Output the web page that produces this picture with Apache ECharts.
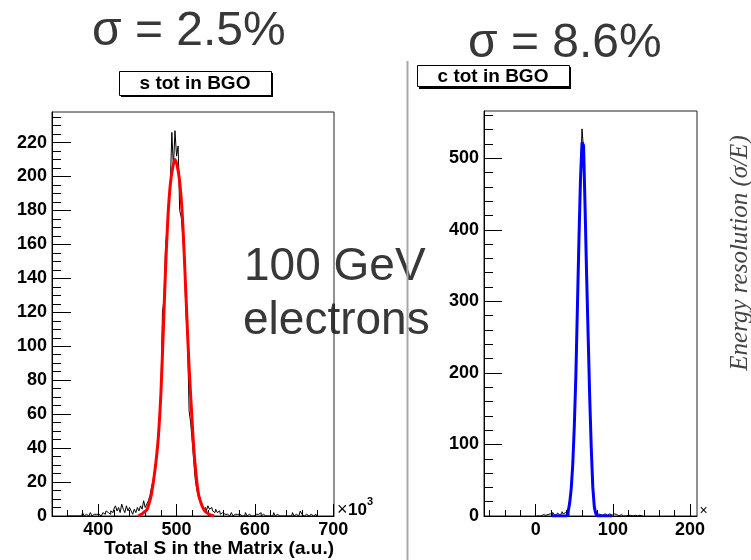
<!DOCTYPE html>
<html><head><meta charset="utf-8">
<script src="https://cdn.jsdelivr.net/npm/echarts@6/dist/echarts.min.js"></script>
<style>html,body{margin:0;padding:0;background:#fff}#c{width:751px;height:560px}</style>
</head><body><div id="c"></div>
<script>
// ---- Left panel: "s tot in BGO" (x in units of 10^3) ----
const sBinStart = 361;      // centre of first listed bin
const sBinWidth = 2;
const sCounts = [
  0,0,1,0,0,1,0,0,1,0, 2,0,1,0,1,2,0,1,1,2, 1,0,1,2,1,3,2,1,3,2, 4,6,3,5,2,7,4,2,6,3, 5,
  3,1,4,2,5,3,6,4,9,5, 7,9,12,17,21,26,33,40,58,72, 120,128,160,168,181,195,226,205,227,212,
  218,180,176,165,148,120,104,62,55,44, 32,21,15,11,9,6,4,5,3,6, 4,5,3,2,4,2,3,1,
  2,1,2,1,0,1,2,0,1,1, 0,1,0,1,0,2,0,1,0,1, 0,1,0,1,2,0,1,0,1,0, 0,1,0,2,0,1,0,1,0,0,
  1,0,0,1,0,2,0,1,0,1, 3,1,0,1,0,0,1,0,0,1, 0
];
const sFitX = [451,455,459,462,465,468,471,474,477,480,483,486,489,492,495,498,501,504,507,510,513,516,519,522,525,528,531,534,537,540,544,548];
const sFitY = [0,1,2.5,3.5,7.5,13,22,33,48,72,108,146,176,195,205,210,206,197,180,152,119,88,63,40,24,13,8,4.5,2.5,1.5,0.5,0];
const sXMajor = [400,500,600,700];
const sXMinor = [360,380,420,440,460,480,520,540,560,580,620,640,660,680];
const sYMajor = [0,20,40,60,80,100,120,140,160,180,200,220];
const sYMinor = [5,10,15,25,30,35,45,50,55,65,70,75,85,90,95,105,110,115,125,130,135,145,150,155,165,170,175,185,190,195,205,210,215,225,230,235];

// ---- Right panel: "c tot in BGO" ----
const cBinStart = 1;
const cBinWidth = 2;
const cCounts = [
  0,0,1,0,2,0,1,2,0,3, 1,5,2,1,4,2,3,6,3,5,
  4,9,20,41,75,128,193,296,388,472, 541,512,436,338,255,163,92,42,15,5,
  3,2,4,1,3,2,1,3,2,1, 3,1,2,0,1,2,0,1,0,1, 0,1,0,0,1,0,0,1,0,0
];
const cFitStart = 21;
const cFitCounts = [
  0,0,0,0,0,0,0,0,0,0,
  1,6,18,38,72,125,195,290,385,470,
  522,518,430,335,250,165,95,40,12,3,
  0,0,0,0,0,0,0,0,0,0
];
const cXMajor = [0,100,200];
const cXMinor = [-60,-40,-20,20,40,60,80,120,140,160,180];
const cYMajor = [0,100,200,300,400,500];
const cYMinor = [20,40,60,80,120,140,160,180,220,240,260,280,320,340,360,380,420,440,460,480,520,540,560];

const FONT = '"Liberation Sans", Arial, Helvetica, sans-serif';

function hist(start, width, counts) {
  return counts.map((v, i) => [start + i * width, v]);
}
function zip(xs, ys) { return xs.map((x, i) => [x, ys[i]]); }

function xAx(grid, min, max, values, len, labels) {
  return {
    gridIndex: grid, type: 'value', position: 'bottom', min: min, max: max,
    axisLine: { show: labels, onZero: false, lineStyle: { color: '#000', width: 1 } },
    axisTick: { show: true, inside: true, length: len, customValues: values, lineStyle: { color: '#000', width: 1 } },
    axisLabel: labels ? { show: true, customValues: values, margin: 5, color: '#000', fontSize: 18, fontWeight: 'bold', fontFamily: FONT } : { show: false },
    splitLine: { show: false }, minorTick: { show: false }
  };
}
function yAx(grid, min, max, values, len, labels) {
  return {
    gridIndex: grid, type: 'value', position: 'left', min: min, max: max,
    axisLine: { show: labels, onZero: false, lineStyle: { color: '#000', width: 1 } },
    axisTick: { show: true, inside: true, length: len, customValues: values, lineStyle: { color: '#000', width: 1 } },
    axisLabel: labels ? { show: true, customValues: values, margin: 5, color: '#000', fontSize: 18, fontWeight: 'bold', fontFamily: FONT } : { show: false },
    splitLine: { show: false }, minorTick: { show: false }
  };
}

const chart = echarts.init(document.getElementById('c'), null, { renderer: 'canvas' });
chart.setOption({
  animation: false,
  backgroundColor: '#fff',
  grid: [
    { left: 52, top: 112, width: 282, height: 404, show: true, borderColor: '#222', borderWidth: 1, backgroundColor: 'transparent' },
    { left: 484, top: 111, width: 213, height: 405, show: true, borderColor: '#222', borderWidth: 1, backgroundColor: 'transparent' }
  ],
  xAxis: [
    xAx(0, 341, 701, sXMajor, 12, true),
    xAx(0, 341, 701, sXMinor, 6, false),
    xAx(1, -67, 209, cXMajor, 12, true),
    xAx(1, -67, 209, cXMinor, 6, false)
  ],
  yAxis: [
    yAx(0, 0, 238, sYMajor, 19, true),
    yAx(0, 0, 238, sYMinor, 9, false),
    yAx(1, 0, 566, cYMajor, 18, true),
    yAx(1, 0, 566, cYMinor, 9, false)
  ],
  series: [
    { type: 'line', xAxisIndex: 0, yAxisIndex: 0, data: hist(sBinStart, sBinWidth, sCounts), step: 'middle', symbol: 'none', lineStyle: { color: '#000', width: 1 }, z: 2 },
    { type: 'line', xAxisIndex: 0, yAxisIndex: 0, data: zip(sFitX, sFitY), smooth: 0.3, symbol: 'none', lineStyle: { color: '#ff0000', width: 3 }, z: 3 },
    { type: 'line', xAxisIndex: 2, yAxisIndex: 2, data: hist(cBinStart, cBinWidth, cCounts), step: 'middle', symbol: 'none', lineStyle: { color: '#000', width: 1 }, z: 2 },
    { type: 'line', xAxisIndex: 2, yAxisIndex: 2, data: hist(cFitStart, cBinWidth, cFitCounts), step: 'middle', symbol: 'none', lineStyle: { color: '#0000ff', width: 3 }, z: 3 }
  ],
  graphic: [
    { type: 'text', z: -1, x: 92, y: 32, style: { text: 'σ = 2.5%', fontSize: 48, fontFamily: FONT, fill: '#383838', align: 'left', verticalAlign: 'middle' } },
    { type: 'text', z: -1, x: 468, y: 44, style: { text: 'σ = 8.6%', fontSize: 48, fontFamily: FONT, fill: '#383838', align: 'left', verticalAlign: 'middle' } },
    { type: 'text', z: -1, x: 244, y: 267, style: { text: '100 GeV', fontSize: 46, fontFamily: FONT, fill: '#383838', align: 'left', verticalAlign: 'middle' } },
    { type: 'text', z: -1, x: 243, y: 321, style: { text: 'electrons', fontSize: 46, fontFamily: FONT, fill: '#383838', align: 'left', verticalAlign: 'middle' } },
    { type: 'rect', z: 10, shape: { x: 121, y: 73, width: 152, height: 24 }, style: { fill: '#000' } },
    { type: 'rect', z: 11, shape: { x: 119.5, y: 71.5, width: 152, height: 24 }, style: { fill: '#fff', stroke: '#000', lineWidth: 1 } },
    { type: 'text', z: 12, x: 195, y: 84, style: { text: 's tot in BGO', fontSize: 19, fontWeight: 'bold', fontFamily: FONT, fill: '#000', align: 'center', verticalAlign: 'middle' } },
    { type: 'rect', z: 10, shape: { x: 419, y: 67, width: 152, height: 22 }, style: { fill: '#000' } },
    { type: 'rect', z: 11, shape: { x: 417.5, y: 65.5, width: 152, height: 21 }, style: { fill: '#fff', stroke: '#000', lineWidth: 1 } },
    { type: 'text', z: 12, x: 493, y: 76.5, style: { text: 'c tot in BGO', fontSize: 19, fontWeight: 'bold', fontFamily: FONT, fill: '#000', align: 'center', verticalAlign: 'middle' } },
    { type: 'line', z: 100, shape: { x1: 407.5, y1: 61, x2: 407.5, y2: 560 }, style: { stroke: '#a8a8a8', lineWidth: 2 } },
    { type: 'text', z: 5, x: 334, y: 549, style: { text: 'Total S in the Matrix (a.u.)', fontSize: 19, fontWeight: 'bold', fontFamily: FONT, fill: '#000', align: 'right', verticalAlign: 'middle' } },
    { type: 'text', z: 5, x: 337, y: 510, style: { text: '×', fontSize: 18, fontFamily: FONT, fill: '#000', align: 'left', verticalAlign: 'middle' } },
    { type: 'text', z: 5, x: 348, y: 510, style: { text: '10', fontSize: 17, fontWeight: 'bold', fontFamily: FONT, fill: '#000', align: 'left', verticalAlign: 'middle' } },
    { type: 'text', z: 5, x: 367, y: 502, style: { text: '3', fontSize: 11, fontWeight: 'bold', fontFamily: FONT, fill: '#000', align: 'left', verticalAlign: 'middle' } },
    { type: 'text', z: 5, x: 703.5, y: 511, style: { text: '×', fontSize: 14, fontFamily: FONT, fill: '#000', align: 'center', verticalAlign: 'middle' } },
    { type: 'text', z: 5, x: 740, y: 253, rotation: Math.PI / 2, style: { text: 'Energy resolution (σ/E)', fontSize: 25, fontStyle: 'italic', fontFamily: '"Liberation Serif", "Times New Roman", serif', fill: '#444', align: 'center', verticalAlign: 'middle' } }
  ]
});
</script>
</body></html>
